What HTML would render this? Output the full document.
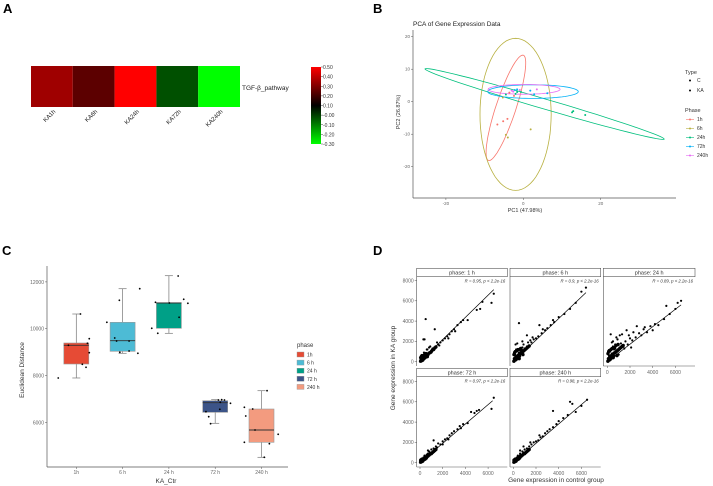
<!DOCTYPE html>
<html><head><meta charset="utf-8"><style>
html,body{margin:0;padding:0;background:#fff;}
svg{display:block;font-family:"Liberation Sans",sans-serif;}
</style></head><body>
<svg id="fig" width="713" height="486" viewBox="0 0 713 486">
<g id="labels">
<text x="3" y="13" font-size="13" font-weight="bold">A</text>
<text x="373" y="13" font-size="13" font-weight="bold">B</text>
<text x="2" y="255" font-size="13" font-weight="bold">C</text>
<text x="373" y="255" font-size="13" font-weight="bold">D</text>
</g>
<defs><linearGradient id="cbg" x1="0" y1="0" x2="0" y2="1"><stop offset="0" stop-color="#ff0000"/><stop offset="0.5" stop-color="#000000"/><stop offset="1" stop-color="#00ff00"/></linearGradient></defs>
<g id="pa"></g>
<g id="pb"></g>
<g id="pc"></g>
<g id="pd"></g>
</svg>
<script>
// ---------- Panel A data ----------
const heatCats = ["KA1h","KA6h","KA24h","KA72h","KA240h"];
const heatVals = [0.35, 0.245, 0.5, -0.025, -0.3];
const cbTicks = ["0.50","0.40","0.30","0.20","0.10","-0.00","-0.10","-0.20","-0.30"];
// ---------- Panel B data ----------
const pcaPhases = ["1h","6h","24h","72h","240h"];
const pcaColors = ["#F8766D","#B8B040","#00BF7D","#00B0F6","#E76BF3"];
const pcaX1h = [-6.7,-5.2,-4.1,-2.4,-3.6];
const pcaY1h = [-7.0,-6.0,-5.3,1.8,2.8];
const pcaX6h = [-5.3,-4.5,1.9,-4.0];
const pcaY6h = [1.3,-10.2,-8.5,-11];
const pcaX24h = [-4.5,-2.0,-1.6,-0.6,12.6,12.9,16.0];
const pcaY24h = [2.2,2.4,3.0,3.0,-3.3,-2.9,-4.1];
const pcaX72h = [-2.2,1.8,6.2,2.8,-1.6];
const pcaY72h = [3.6,3.4,2.6,2.3,3.8];
const pcaX240h = [-3.0,3.5,-2.6,-0.9];
const pcaY240h = [3.4,3.8,3.1,3.6];
const ellCx = [-4.5,-2.0,5.5,2.5,0.2];
const ellCy = [-1.9,-3.9,-0.7,3.1,3.8];
const ellAx = [4.5,0,30.9,11.7,9.3];
const ellAy = [16.2,23.4,-10.8,0,0];
const ellBx = [2.45,9.2,-0.36,0,0];
const ellBy = [-0.97,0,-1.48,2.1,1.5];
const pcaXTicks = [-20,0,20];
const pcaYTicks = [20,10,0,-10,-20];
// ---------- Panel C data ----------
const boxCats = ["1h","6 h","24 h","72 h","240 h"];
const boxColors = ["#E64B35","#4DBBD5","#00A087","#3C5488","#F39B7F"];
const boxLow = [7894,8949,9803,5957,4504];
const boxQ1 = [8491,9034,10017,6427,5145];
const boxMed = [9291,9487,11098,6838,5671];
const boxQ3 = [9389,10273,11111,6923,6568];
const boxHigh = [10628,11709,12265,6966,7350];
const jitVals = [
 [7893,10628,9573,9376,9291,8974,8479,8350],
 [10273,11214,11709,9603,9474,9474,8991,9047,8949],
 [10017,9803,11128,11098,11256,11085,10487,12252],
 [6453,6239,5940,6953,6855,6953,6812,6555,6966],
 [6641,6269,6568,5671,7350,5487,5085,5145,4504]];
const jitOff = [
 [-0.39,0.09,0.28,0.24,-0.17,0.28,0.13,0.21],
 [-0.34,-0.07,0.37,-0.17,-0.13,0.14,-0.06,0.14,0.33],
 [-0.37,-0.24,-0.29,0.01,0.32,0.41,0.22,0.2],
 [-0.2,-0.14,-0.1,0.07,0.11,0.2,0.33,0.1,0.14],
 [-0.37,-0.34,-0.19,-0.14,0.12,0.36,0.17,-0.37,0.06]];
const boxYTicks = [12000,10000,8000,6000];
// ---------- Panel D data ----------
const facetTitles = ["phase: 1 h","phase: 6 h","phase: 24 h","phase: 72 h","phase: 240 h"];
const facetStats = ["R = 0.95, p < 2.2e-16","R = 0.9, p < 2.2e-16","R = 0.89, p < 2.2e-16","R = 0.97, p < 2.2e-16","R = 0.98, p < 2.2e-16"];
const fitEndX = [6500,6400,6500,6400,6500];
const fitEndY = [7100,6800,5600,6100,6200];
const sc1x=[100,150,200,250,300,350,400,450,500,550,600,650,700,800,900,1000,1100,1200,1400,1600,1800,2000,2200,2400,2600,2800,3000,3300,3600,3800,4200,5000,5300,5500,6300,6500,500,300,400,1300,800,600,900,1500,2500,3100,700,250,350,450,150,200,1000,1700];
const sc1y=[100,600,150,400,300,900,350,700,500,800,650,1200,800,850,950,1100,1300,1250,1500,1700,1900,2100,2300,2500,2700,3000,3200,3600,3900,4100,4100,5100,5200,5900,5800,6700,4200,2200,2200,3200,1400,1200,1500,1900,2300,3000,600,400,300,650,250,500,900,1600];
const sc2x=[100,150,200,250,300,350,400,500,600,700,800,900,1000,1200,1400,1600,1800,2000,2200,2500,2800,3000,3300,3600,4000,4500,5000,5500,6000,6400,200,500,800,300,1200,1500,2300,400,600,900,1100,700,150,1300,1700,2600,3500];
const sc2y=[150,700,300,1200,500,1800,400,900,1100,800,1400,1000,1300,1500,1600,1900,2200,2300,2500,2800,3100,3300,3600,3900,4400,4700,5200,5800,6900,7300,1700,3800,2000,1000,2600,2100,3600,600,700,1700,1200,1000,400,1900,2400,3200,4100];
const sc3x=[100,150,200,250,300,400,500,600,700,800,900,1000,1200,1400,1600,1800,2000,2200,2500,2800,3000,3200,3500,3800,4000,4200,4500,5000,5200,5500,6000,6200,6500,300,500,800,1300,1700,2100,2600,3300,400,600,900,1100,1500,1900,2300,700,1000];
const sc3y=[100,600,300,1000,400,800,1500,900,1300,1100,1600,1200,1800,1500,2000,1700,2300,2100,2400,2800,2600,3200,2900,3500,3100,3700,3600,4200,5500,4700,5200,5800,6000,2700,2000,2400,2700,3100,1400,3500,3400,1900,1200,2200,2600,1300,2600,2900,1700,700];
const sc4x=[100,150,200,300,400,500,600,700,800,900,1000,1200,1400,1600,1800,2000,2200,2400,2600,2800,3000,3300,3600,3800,4200,4500,4800,5000,5200,6300,6500,1200,2000,700,1500,2500,3500];
const sc4y=[100,400,250,500,700,600,800,900,1100,1000,1300,1400,1600,1900,1800,2100,2300,2400,2700,2900,3100,3300,3400,3800,3900,5000,4900,5100,5200,5300,6400,2200,1800,1200,1500,2300,3600];
const sc5x=[100,150,200,300,400,500,600,700,800,900,1000,1200,1400,1600,1800,2000,2200,2400,2600,2800,3000,3200,3500,3800,4000,4400,4800,5000,5200,5500,6000,6500,3500,1500,600,900,2300];
const sc5y=[100,400,200,500,700,600,900,800,1100,1000,1300,1400,1600,1800,2000,2100,2200,2500,2600,2900,3100,3300,3500,3800,4100,4400,4700,6000,5800,5000,5600,6200,5100,2000,1200,1600,2700];
// dense low-expression clusters (per facet)
const lo1x=[50,100,150,200,250,300,350,400,450,500,550,600,700,800,900,1000,1100,1200,1300,1400,60,120,180,240,320,420,520,650];
const lo1y=[50,200,100,300,200,350,300,450,400,550,500,650,700,850,900,1000,1150,1200,1350,1450,400,500,600,150,600,700,800,500];
const lo2x=[50,100,150,200,250,300,350,400,450,500,550,600,700,800,900,1000,1100,1200,1300,1400,60,120,180,240,320,420,520,650,750,850];
const lo2y=[50,300,150,400,250,500,350,600,450,700,550,800,850,950,1050,1150,1250,1350,1450,1550,700,900,1000,200,1100,1200,300,1300,1100,700];
const lo3x=[50,100,150,200,250,300,350,400,450,500,550,600,700,800,900,1000,1100,1200,1300,1400,60,120,180,240,320,420,520,650,750,850,950];
const lo3y=[50,300,150,400,250,550,350,650,450,750,550,850,900,1000,1100,1200,1300,1400,1500,1600,800,1000,1100,200,1200,1300,400,1400,1600,600,1700];
const lo4x=[50,100,150,200,250,300,350,400,450,500,550,600,700,800,900,1000,1100,1200,1300,1400,60,120,180,240,320,420,520,650];
const lo4y=[50,150,100,250,200,300,300,400,350,500,450,550,650,750,850,900,1000,1100,1200,1300,250,300,350,150,400,500,550,700];
const lo5x=[50,100,150,200,250,300,350,400,450,500,550,600,700,800,900,1000,1100,1200,1300,1400,60,120,180,240,320,420,520,650];
const lo5y=[50,150,100,250,200,300,300,400,350,500,450,550,650,750,850,900,1000,1100,1200,1300,250,300,350,150,400,500,550,700];
const facetXs=[sc1x,sc2x,sc3x,sc4x,sc5x];
const facetYs=[sc1y,sc2y,sc3y,sc4y,sc5y];
const loXs=[lo1x,lo2x,lo3x,lo4x,lo5x];
const loYs=[lo1y,lo2y,lo3y,lo4y,lo5y];
const dXTicks=[0,2000,4000,6000];
const dYTicks=[0,2000,4000,6000,8000];

const NS="http://www.w3.org/2000/svg";
function mk(parent,tag,attrs,txt){const e=document.createElementNS(NS,tag);for(const k in attrs)e.setAttribute(k,attrs[k]);if(txt!==undefined)e.textContent=txt;parent.appendChild(e);return e;}

// ===== Panel A =====
(function(){
 const g=document.getElementById('pa');
 const x0=31,w=41.8,y0=66,h=41;
 function heatColor(v){const mid=0.1;
  if(v>=mid){const t=Math.min(1,(v-mid)/0.4);return "rgb("+Math.round(t*255)+",0,0)";}
  const t=Math.min(1,(mid-v)/0.4);return "rgb(0,"+Math.round(t*255)+",0)";}
 heatCats.forEach((c,i)=>{
  const r=mk(g,'rect',{x:x0+i*w,y:y0,width:w,height:h,fill:heatColor(heatVals[i])});
  
  
  const cx=x0+i*w+w/2+4;
  const t=mk(g,'text',{x:cx,y:112,'font-size':6,'text-anchor':'end',fill:'#222',transform:'rotate(-45 '+cx+' 112)'},c);
  
  
 });
 const rl=mk(g,'text',{x:242,y:90,'font-size':6.5,fill:'#222'},"TGF-β_pathway");
 
 
 const cb=mk(g,'rect',{x:311,y:67,width:10,height:77,fill:'url(#cbg)'});
 
 
 cbTicks.forEach((t,i)=>{const y=67+i*77/8;
  mk(g,'line',{x1:321,x2:323,y1:y,y2:y,stroke:'#444','stroke-width':0.5});
  const tt=mk(g,'text',{x:323,y:y+2,'font-size':5,fill:'#333'},t);
  
  });
})();

// ===== Panel B =====
(function(){
 const g=document.getElementById('pb');
 const bx=v=>523.3+3.87*v, by=v=>101.7-3.25*v;
 const tt=mk(g,'text',{x:413,y:26,'font-size':6.5,fill:'#222'},"PCA of Gene Expression Data");
 
 
 mk(g,'line',{x1:413,x2:413,y1:30,y2:198,stroke:'#555','stroke-width':0.7});
 mk(g,'line',{x1:413,x2:676,y1:198,y2:198,stroke:'#555','stroke-width':0.7});
 pcaXTicks.forEach(v=>{mk(g,'line',{x1:bx(v),x2:bx(v),y1:198,y2:200,stroke:'#555','stroke-width':0.5});
  const t=mk(g,'text',{x:bx(v),y:205,'font-size':4.5,fill:'#666','text-anchor':'middle'},v);
  
  });
 pcaYTicks.forEach(v=>{mk(g,'line',{x1:411,x2:413,y1:by(v),y2:by(v),stroke:'#555','stroke-width':0.5});
  const t=mk(g,'text',{x:410,y:by(v)+1.5,'font-size':4.5,fill:'#666','text-anchor':'end'},v);
  
  });
 const xl=mk(g,'text',{x:525,y:212,'font-size':5.5,fill:'#333','text-anchor':'middle'},"PC1 (47.98%)");
 
 
 const yl=mk(g,'text',{x:400,y:112,'font-size':5.5,fill:'#333','text-anchor':'middle',transform:'rotate(-90 400 112)'},"PC2 (26.87%)");
 
 
 pcaPhases.forEach((p,i)=>{let d="";
  for(let k=0;k<=72;k++){const a=k/72*2*Math.PI;const vx=ellCx[i]+ellAx[i]*Math.cos(a)+ellBx[i]*Math.sin(a);const vy=ellCy[i]+ellAy[i]*Math.cos(a)+ellBy[i]*Math.sin(a);d+=(k?"L":"M")+bx(vx).toFixed(1)+","+by(vy).toFixed(1);}
  const e=mk(g,'path',{d:d+"Z",fill:'none',stroke:pcaColors[i],'stroke-width':0.8});
  
  });
 const xsA=[pcaX1h,pcaX6h,pcaX24h,pcaX72h,pcaX240h], ysA=[pcaY1h,pcaY6h,pcaY24h,pcaY72h,pcaY240h];
 pcaPhases.forEach((p,i)=>{xsA[i].forEach((v,j)=>{
  const c=mk(g,'circle',{cx:bx(v),cy:by(ysA[i][j]),r:1,fill:pcaColors[i]});
  
  });});
 const lt=mk(g,'text',{x:685,y:74,'font-size':5.5,fill:'#333'},"Type");
 
 
 [["C",82],["KA",92]].forEach(([s,y])=>{mk(g,'circle',{cx:690,cy:y-1.5,r:1,fill:'#000'});
  const t=mk(g,'text',{x:697,y:y,'font-size':5,fill:'#333'},s);
  
  });
 const lp=mk(g,'text',{x:685,y:112,'font-size':5.5,fill:'#333'},"Phase");
 
 
 pcaPhases.forEach((p,i)=>{const y=121+i*9;
  mk(g,'line',{x1:686,x2:694,y1:y-1.5,y2:y-1.5,stroke:pcaColors[i],'stroke-width':0.6});
  mk(g,'circle',{cx:690,cy:y-1.5,r:1,fill:pcaColors[i]});
  const t=mk(g,'text',{x:697,y:y,'font-size':5,fill:'#333'},p);
  
  });
})();

// ===== Panel C =====
(function(){
 const g=document.getElementById('pc');
 const cy=v=>328.7-(v-10000)*0.0234, band=46.3, cx=i=>76.3+i*band;
 mk(g,'line',{x1:47,x2:47,y1:266,y2:467,stroke:'#555','stroke-width':0.7});
 mk(g,'line',{x1:47,x2:288,y1:467,y2:467,stroke:'#555','stroke-width':0.7});
 boxYTicks.forEach(v=>{mk(g,'line',{x1:45,x2:47,y1:cy(v),y2:cy(v),stroke:'#555','stroke-width':0.5});
  const t=mk(g,'text',{x:44,y:cy(v)+2,'font-size':5,fill:'#666','text-anchor':'end'},v);
  
  });
 boxCats.forEach((c,i)=>{const x=cx(i),bw=25;
  mk(g,'line',{x1:x,x2:x,y1:cy(boxLow[i]),y2:cy(boxHigh[i]),stroke:'#777','stroke-width':0.7});
  mk(g,'line',{x1:x-4,x2:x+4,y1:cy(boxLow[i]),y2:cy(boxLow[i]),stroke:'#777','stroke-width':0.7});
  mk(g,'line',{x1:x-4,x2:x+4,y1:cy(boxHigh[i]),y2:cy(boxHigh[i]),stroke:'#777','stroke-width':0.7});
  const b=mk(g,'rect',{x:x-bw/2,y:cy(boxQ3[i]),width:bw,height:cy(boxQ1[i])-cy(boxQ3[i]),fill:boxColors[i],stroke:'#999','stroke-width':0.6});
  
  
  mk(g,'line',{x1:x-bw/2,x2:x+bw/2,y1:cy(boxMed[i]),y2:cy(boxMed[i]),stroke:'#333','stroke-width':0.9});
  jitVals[i].forEach((v,j)=>{const p=mk(g,'circle',{cx:x+jitOff[i][j]*band,cy:cy(v),r:0.9,fill:'#000'});
   
   });
  mk(g,'line',{x1:x,x2:x,y1:467,y2:469,stroke:'#555','stroke-width':0.5});
  const t=mk(g,'text',{x:x,y:474,'font-size':5,fill:'#666','text-anchor':'middle'},c);
  
  
  const ky=352+i*8.1;
  const k=mk(g,'rect',{x:297,y:ky,width:7,height:5,fill:boxColors[i],stroke:'#999','stroke-width':0.4});
  
  
  const lt=mk(g,'text',{x:307,y:ky+4.5,'font-size':5,fill:'#333'},c);
  
  });
 const lh=mk(g,'text',{x:297,y:347,'font-size':6,fill:'#333'},"phase");
 
 
 const xl=mk(g,'text',{x:166,y:483,'font-size':6.5,fill:'#333','text-anchor':'middle'},"KA_Ctr");
 
 
 const yl=mk(g,'text',{x:24,y:370,'font-size':6.5,fill:'#333','text-anchor':'middle',transform:'rotate(-90 24 370)'},"Euclidean Distance");
 
 
})();

// ===== Panel D =====
(function(){
 const g=document.getElementById('pd');
 const cols=[[416.7,507.3,420],[510,600.7,513.3],[603.3,695,607.3]];
 const rows=[[268.3,276.7,366,361.7],[368.3,376.7,467,462.7]];
 const sxk=22.7/2000, syk=20.3/2000;
 for(let f=0;f<5;f++){
  const ci=f%3, ri=Math.floor(f/3), C=cols[ci], R=rows[ri];
  const px=v=>C[2]+v*sxk, py=v=>R[3]-v*syk;
  const s=mk(g,'rect',{x:C[0],y:R[0],width:C[1]-C[0],height:R[1]-R[0],fill:'#fff',stroke:'#555','stroke-width':0.6});
  
  
  const st=mk(g,'text',{x:(C[0]+C[1])/2,y:R[0]+6.3,'font-size':5.5,fill:'#333','text-anchor':'middle'},facetTitles[f]);
  
  
  const an=mk(g,'text',{x:C[1]-2,y:R[1]+6,'font-size':4.3,'font-style':'italic',fill:'#333','text-anchor':'end'},facetStats[f]);
  
  
  mk(g,'line',{x1:C[0],x2:C[0],y1:R[1],y2:R[2],stroke:'#555','stroke-width':0.6});
  if(ci===0){
   dYTicks.forEach(v=>{const y=py(v);if(y<R[1]+2)return;
    mk(g,'line',{x1:C[0]-2,x2:C[0],y1:y,y2:y,stroke:'#555','stroke-width':0.5});
    const t=mk(g,'text',{x:C[0]-3,y:y+1.8,'font-size':5,fill:'#666','text-anchor':'end'},v);
    
    });}
  if(ri===1||ci===2){mk(g,'line',{x1:C[0],x2:C[1],y1:R[2],y2:R[2],stroke:'#555','stroke-width':0.6});
   dXTicks.forEach(v=>{const x=px(v);
    mk(g,'line',{x1:x,x2:x,y1:R[2],y2:R[2]+2,stroke:'#555','stroke-width':0.5});
    const t=mk(g,'text',{x:x,y:R[2]+8,'font-size':5,fill:'#666','text-anchor':'middle'},v);
    
    });}
  facetXs[f].forEach((v,j)=>{const p=mk(g,'circle',{cx:px(v),cy:py(facetYs[f][j]),r:1.1,fill:'#000'});
   
   });
  loXs[f].forEach((v,j)=>{const p=mk(g,'circle',{cx:px(v),cy:py(loYs[f][j]),r:1.7,fill:'#000'});
   
   });
  const l=mk(g,'line',{x1:px(0),y1:py(0),x2:px(fitEndX[f]),y2:py(fitEndY[f]),stroke:'#000','stroke-width':0.7});
  
  
 }
 const xl=mk(g,'text',{x:556,y:482,'font-size':6.5,fill:'#333','text-anchor':'middle'},"Gene expression in control group");
 
 
 const yl=mk(g,'text',{x:395,y:368,'font-size':6.5,fill:'#333','text-anchor':'middle',transform:'rotate(-90 395 368)'},"Gene expression in KA group");
 
 
})();
</script>
</body></html>
